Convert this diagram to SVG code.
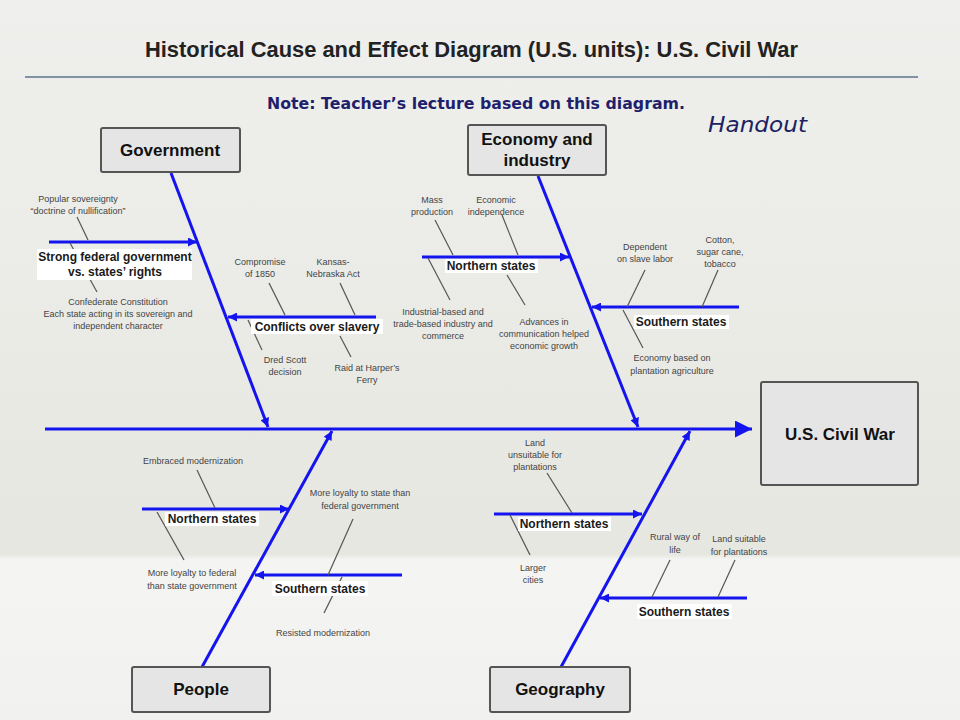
<svg xmlns="http://www.w3.org/2000/svg" width="960" height="720" viewBox="0 0 960 720">
<defs>
<linearGradient id="bg" x1="0" y1="0" x2="0" y2="1">
<stop offset="0" stop-color="#efefed"/>
<stop offset="0.77" stop-color="#e7e7e1"/>
<stop offset="0.777" stop-color="#f4f4f2"/>
<stop offset="1" stop-color="#f1f1ef"/>
</linearGradient>
<marker id="ah" viewBox="0 0 10 10" refX="10" refY="5" markerWidth="11" markerHeight="9" markerUnits="userSpaceOnUse" orient="auto">
<path d="M0,0 L10,5 L0,10 z" fill="#1414ee"/>
</marker>
<marker id="ahBig" viewBox="0 0 10 10" refX="10" refY="5" markerWidth="17" markerHeight="17" markerUnits="userSpaceOnUse" orient="auto">
<path d="M0,0 L10,5 L0,10 z" fill="#1414ee"/>
</marker>
<style>
.box{fill:#e5e5e5;stroke:#555;stroke-width:2}
.boxt{font-family:"Liberation Sans",Arial,sans-serif;font-weight:bold;font-size:17px;fill:#111;text-anchor:middle}
.bone{stroke:#1414ee;stroke-width:3;fill:none}
.sub{stroke:#555;stroke-width:1.2}
.lbl{font-family:"Liberation Sans",Arial,sans-serif;font-weight:bold;font-size:12px;fill:#1a1a1a;text-anchor:middle}
.lblbg{fill:#ffffff}
.st{font-family:"Liberation Sans",Arial,sans-serif;font-size:9px;fill:#444;text-anchor:middle}
</style>
</defs>
<rect x="0" y="0" width="960" height="720" fill="url(#bg)"/>
<g id="header">
<text x="145" y="57" font-family="Liberation Sans,Arial,sans-serif" font-weight="bold" font-size="22" fill="#222" textLength="653" lengthAdjust="spacingAndGlyphs">Historical Cause and Effect Diagram (U.S. units): U.S. Civil War</text>
<line x1="25" y1="77" x2="918" y2="77" stroke="#8292a4" stroke-width="2"/>
<text x="267" y="109" font-family="DejaVu Sans,Verdana,sans-serif" font-weight="bold" font-size="15" fill="#1f1f6b" textLength="418" lengthAdjust="spacingAndGlyphs">Note: Teacher’s lecture based on this diagram.</text>
<text x="708" y="132" font-family="DejaVu Sans,Verdana,sans-serif" font-style="italic" font-size="21" fill="#1c2263" textLength="99" lengthAdjust="spacingAndGlyphs">Handout</text>
</g>
<g id="connectors">
<line class="bone" x1="45" y1="429" x2="752" y2="429" stroke-width="4" marker-end="url(#ahBig)"/>
<line class="bone" x1="171" y1="173" x2="268" y2="427" marker-end="url(#ah)"/>
<line class="bone" x1="538" y1="176" x2="638" y2="427" marker-end="url(#ah)"/>
<line class="bone" x1="202" y1="667" x2="332" y2="431" marker-end="url(#ah)"/>
<line class="bone" x1="561" y1="667" x2="690" y2="431" marker-end="url(#ah)"/>
<line class="bone" x1="49" y1="242" x2="197" y2="242" marker-end="url(#ah)"/>
<line class="bone" x1="376" y1="317" x2="228" y2="317" marker-end="url(#ah)"/>
<line class="bone" x1="422" y1="257" x2="569" y2="257" marker-end="url(#ah)"/>
<line class="bone" x1="739" y1="307" x2="592" y2="307" marker-end="url(#ah)"/>
<line class="bone" x1="142" y1="509" x2="289" y2="509" marker-end="url(#ah)"/>
<line class="bone" x1="402" y1="575" x2="255" y2="575" marker-end="url(#ah)"/>
<line class="bone" x1="494" y1="514" x2="642" y2="514" marker-end="url(#ah)"/>
<line class="bone" x1="747" y1="598" x2="600" y2="598" marker-end="url(#ah)"/>
<g id="subcause-lines">
<line class="sub" x1="77" y1="217" x2="88" y2="240"/>
<line class="sub" x1="70" y1="243" x2="97" y2="292"/>
<line class="sub" x1="269" y1="283" x2="285" y2="315"/>
<line class="sub" x1="340" y1="283" x2="355" y2="315"/>
<line class="sub" x1="248" y1="320" x2="262" y2="350"/>
<line class="sub" x1="340" y1="336" x2="351" y2="357"/>
<line class="sub" x1="435" y1="220" x2="453" y2="255"/>
<line class="sub" x1="502" y1="215" x2="518" y2="255"/>
<line class="sub" x1="428" y1="258" x2="450" y2="300"/>
<line class="sub" x1="507" y1="275" x2="525" y2="305"/>
<line class="sub" x1="645" y1="270" x2="627" y2="307"/>
<line class="sub" x1="718" y1="270" x2="702" y2="307"/>
<line class="sub" x1="623" y1="310" x2="643" y2="348"/>
<line class="sub" x1="197" y1="470" x2="215" y2="508"/>
<line class="sub" x1="157" y1="512" x2="184" y2="560"/>
<line class="sub" x1="353" y1="519" x2="328" y2="575"/>
<line class="sub" x1="342" y1="577" x2="324" y2="613"/>
<line class="sub" x1="547" y1="473" x2="572" y2="513"/>
<line class="sub" x1="510" y1="515" x2="530" y2="555"/>
<line class="sub" x1="670" y1="560" x2="652" y2="597"/>
<line class="sub" x1="735" y1="560" x2="718" y2="597"/>
</g>
</g>
<g id="government">
<rect class="box" x="101" y="128" width="139" height="44" rx="2"/>
<text class="boxt" x="170" y="156">Government</text>
</g>
<g id="economy">
<rect class="box" x="468" y="125" width="138" height="50" rx="2"/>
<text class="boxt" x="537" y="145">Economy and</text>
<text class="boxt" x="537" y="166">industry</text>
</g>
<g id="effect">
<rect class="box" x="761" y="382" width="157" height="103" rx="2"/>
<text class="boxt" x="840" y="440" font-size="22">U.S. Civil War</text>
</g>
<g id="people">
<rect class="box" x="132" y="667" width="138" height="45" rx="2"/>
<text class="boxt" x="201" y="695">People</text>
</g>
<g id="geography">
<rect class="box" x="490" y="667" width="140" height="45" rx="2"/>
<text class="boxt" x="560" y="695">Geography</text>
</g>
<g id="branch-gov-strong">
<rect class="lblbg" x="37" y="249" width="155" height="31"/>
<text class="lbl" x="115" y="261">Strong federal government</text>
<text class="lbl" x="115" y="276">vs. states’ rights</text>
<text class="st" x="78" y="202">Popular sovereignty</text>
<text class="st" x="78" y="214">“doctrine of nullification”</text>
<text class="st" x="118" y="305">Confederate Constitution</text>
<text class="st" x="118" y="317">Each state acting in its sovereign and</text>
<text class="st" x="118" y="329">independent character</text>
</g>
<g id="branch-gov-slavery">
<rect class="lblbg" x="251" y="319" width="132" height="15"/>
<text class="lbl" x="317" y="331">Conflicts over slavery</text>
<text class="st" x="260" y="265">Compromise</text>
<text class="st" x="260" y="277">of 1850</text>
<text class="st" x="333" y="265">Kansas-</text>
<text class="st" x="333" y="277">Nebraska Act</text>
<text class="st" x="285" y="363">Dred Scott</text>
<text class="st" x="285" y="375">decision</text>
<text class="st" x="367" y="371">Raid at Harper’s</text>
<text class="st" x="367" y="383">Ferry</text>
</g>
<g id="branch-econ-north">
<rect class="lblbg" x="445" y="259" width="93" height="14"/>
<text class="lbl" x="491" y="270">Northern states</text>
<text class="st" x="432" y="203">Mass</text>
<text class="st" x="432" y="215">production</text>
<text class="st" x="496" y="203">Economic</text>
<text class="st" x="496" y="215">independence</text>
<text class="st" x="443" y="315">Industrial-based and</text>
<text class="st" x="443" y="327">trade-based industry and</text>
<text class="st" x="443" y="339">commerce</text>
<text class="st" x="544" y="325">Advances in</text>
<text class="st" x="544" y="337">communication helped</text>
<text class="st" x="544" y="349">economic growth</text>
</g>
<g id="branch-econ-south">
<rect class="lblbg" x="634" y="315" width="95" height="14"/>
<text class="lbl" x="681" y="326">Southern states</text>
<text class="st" x="645" y="250">Dependent</text>
<text class="st" x="645" y="262">on slave labor</text>
<text class="st" x="720" y="243">Cotton,</text>
<text class="st" x="720" y="255">sugar cane,</text>
<text class="st" x="720" y="267">tobacco</text>
<text class="st" x="672" y="361">Economy based on</text>
<text class="st" x="672" y="374">plantation agriculture</text>
</g>
<g id="branch-people-north">
<rect class="lblbg" x="165" y="512" width="94" height="14"/>
<text class="lbl" x="212" y="523">Northern states</text>
<text class="st" x="193" y="464">Embraced modernization</text>
<text class="st" x="192" y="576">More loyalty to federal</text>
<text class="st" x="192" y="589">than state government</text>
</g>
<g id="branch-people-south">
<rect class="lblbg" x="272" y="581" width="96" height="15"/>
<text class="lbl" x="320" y="593">Southern states</text>
<text class="st" x="360" y="496">More loyalty to state than</text>
<text class="st" x="360" y="509">federal government</text>
<text class="st" x="323" y="636">Resisted modernization</text>
</g>
<g id="branch-geo-north">
<rect class="lblbg" x="518" y="517" width="93" height="14"/>
<text class="lbl" x="564" y="528">Northern states</text>
<text class="st" x="535" y="446">Land</text>
<text class="st" x="535" y="458">unsuitable for</text>
<text class="st" x="535" y="470">plantations</text>
<text class="st" x="533" y="571">Larger</text>
<text class="st" x="533" y="583">cities</text>
</g>
<g id="branch-geo-south">
<rect class="lblbg" x="637" y="604" width="95" height="15"/>
<text class="lbl" x="684" y="616">Southern states</text>
<text class="st" x="675" y="540">Rural way of</text>
<text class="st" x="675" y="553">life</text>
<text class="st" x="739" y="542">Land suitable</text>
<text class="st" x="739" y="555">for plantations</text>
</g>
</svg>
